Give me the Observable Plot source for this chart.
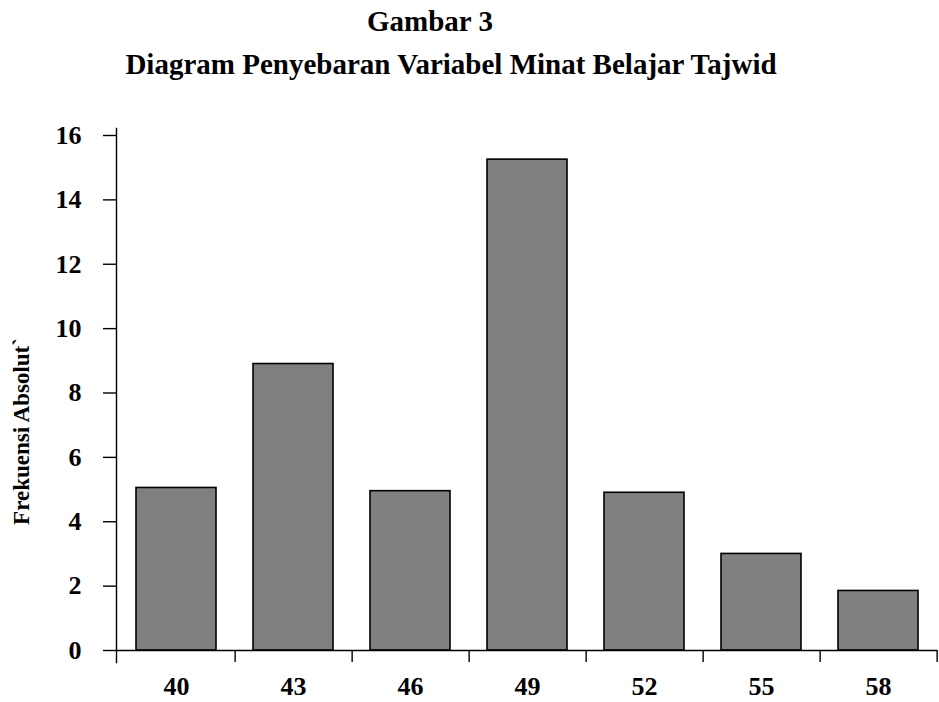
<!DOCTYPE html>
<html><head><meta charset="utf-8">
<script src="https://cdn.jsdelivr.net/npm/d3@7"></script>
<script src="https://cdn.jsdelivr.net/npm/@observablehq/plot@0.6"></script>
<style>
body{margin:0;background:#fff;}
#wrap{position:relative;width:939px;height:702px;font-family:"Liberation Serif","DejaVu Serif",serif;font-weight:bold;color:#000;overflow:hidden;}
.t{position:absolute;white-space:nowrap;font-family:"Liberation Serif","DejaVu Serif",serif;font-weight:bold;font-size:29px;line-height:1;transform:translateX(-50%);}
</style></head><body>
<div id="wrap">
<div id="title" class="t" style="left:430px;top:7px;"></div>
<div id="subtitle" class="t" style="left:451px;top:50px;"></div>
<div id="chart" style="position:absolute;left:0;top:100px;"></div>
</div>
<script>
const titleText = "Gambar 3";
const subtitleText = "Diagram Penyebaran Variabel Minat Belajar Tajwid";
const yLabel = "Frekuensi Absolut`";
const categories = ["40", "43", "46", "49", "52", "55", "58"];
const frequencies = [5.05, 8.9, 4.95, 15.25, 4.9, 3.0, 1.85];
const yTicks = [0, 2, 4, 6, 8, 10, 12, 14, 16];

document.getElementById("title").textContent = titleText;
document.getElementById("subtitle").textContent = subtitleText;

const W = 939, H = 602, ML = 116, MR = 2, MT = 35, MB = 52;
const step = (W - ML - MR) / categories.length;
const data = categories.map((c, i) => ({c, f: frequencies[i]}));
const font = '"Liberation Serif","DejaVu Serif",serif';

const plot = Plot.plot({
  width: W, height: H,
  marginLeft: ML, marginRight: MR, marginTop: MT, marginBottom: MB,
  style: {fontFamily: font, fontWeight: "bold", color: "#000", background: "#fff", overflow: "visible"},
  x: {type: "band", domain: categories, paddingInner: 0.32, paddingOuter: 0.16, label: null},
  y: {domain: [0, 16], label: null},
  marks: [
    Plot.barY(data, {x: "c", y: "f", fill: "#808080", stroke: "#000", strokeWidth: 1.6}),
    Plot.ruleY([0], {stroke: "#000", strokeWidth: 1.4}),
    Plot.frame({anchor: "left", insetTop: -7, insetBottom: -12, stroke: "#000", strokeWidth: 1.4}),
    Plot.ruleX(categories, {x: d => d, y1: 0, y2: 0, insetBottom: -12, dx: step / 2, stroke: "#000", strokeWidth: 1.4}),
    Plot.axisY({ticks: yTicks, tickSize: 13, tickPadding: 22, fontSize: 26, fontWeight: "bold", label: null, stroke: "#000", strokeWidth: 1.4}),
    Plot.axisX({tickSize: 0, tickPadding: 26, fontSize: 26, fontWeight: "bold", label: null}),
    Plot.text([yLabel], {text: d => d, frameAnchor: "left", textAnchor: "middle", rotate: -90, dx: 28 - ML, dy: 331 - (MT + (H - MT - MB) / 2), lineAnchor: "bottom", fontSize: 23, fontWeight: "bold", fill: "#000"})
  ]
});
document.getElementById("chart").appendChild(plot);
</script>
</body></html>
